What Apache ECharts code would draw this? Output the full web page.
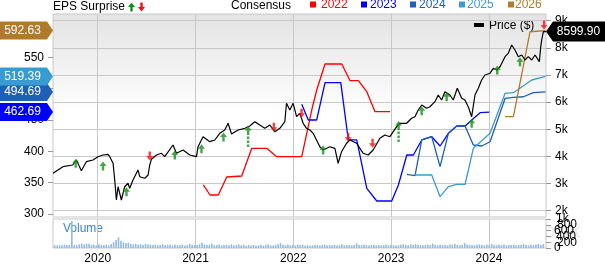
<!DOCTYPE html>
<html><head><meta charset="utf-8">
<script src="https://cdn.jsdelivr.net/npm/echarts@6/dist/echarts.min.js"></script>
<style>html,body{margin:0;padding:0;background:#fff}#c{width:605px;height:265px}</style>
</head><body><div id="c"></div>
<script>
// ---------- data (decimal years) ----------
const years = [2020, 2021, 2022, 2023, 2024];
const priceTicks = [2000, 3000, 4000, 5000, 6000, 7000, 8000, 9000];
const epsTicks = [300, 350, 400, 450, 500, 550];
const volTicks = [0, 200, 400, 600, 800, 1000];
const volLabelsA = [0, 600];
const volLabelsB = [200, 800];
const volLabelsC = [400, 1000];

const price = [
[2019.543,3378],[2019.645,3621],[2019.744,3684],[2019.782,3868],[2019.833,3474],[2019.884,3806],[2019.952,3868],
[2020.003,3990],[2020.054,4053],[2020.105,4078],[2020.123,3990],[2020.157,3747],[2020.174,3131],[2020.191,2394],
[2020.208,2884],[2020.225,2947],[2020.242,2394],[2020.276,2884],[2020.310,3010],[2020.327,2825],[2020.361,3131],
[2020.412,3500],[2020.430,3253],[2020.481,3194],[2020.515,3316],[2020.532,3684],[2020.549,3894],[2020.601,4053],
[2020.652,4115],[2020.685,3990],[2020.770,4421],[2020.805,4115],[2020.873,4237],[2020.941,4053],[2021.010,3990],
[2021.026,4358],[2021.077,4727],[2021.146,4543],[2021.197,4605],[2021.248,4852],[2021.299,4974],[2021.333,5221],
[2021.368,4826],[2021.435,4974],[2021.504,5036],[2021.555,5121],[2021.606,5280],[2021.657,5158],[2021.708,5036],
[2021.760,5158],[2021.811,4911],[2021.862,5036],[2021.913,5280],[2021.930,5958],[2021.964,5711],[2021.998,5958],
[2022.033,5464],[2022.066,5589],[2022.100,5221],[2022.135,5036],[2022.169,4974],[2022.203,4852],[2022.237,4605],
[2022.271,4358],[2022.305,4237],[2022.373,4358],[2022.425,4299],[2022.458,3747],[2022.493,4174],[2022.544,4484],
[2022.578,4605],[2022.647,4484],[2022.714,4115],[2022.765,4053],[2022.816,4237],[2022.885,4668],[2022.936,4790],
[2022.987,4727],[2023.056,5095],[2023.090,5221],[2023.158,5221],[2023.209,5405],[2023.243,5464],[2023.277,5711],
[2023.312,5895],[2023.363,5773],[2023.396,5832],[2023.448,6017],[2023.481,6264],[2023.516,6079],[2023.550,6385],
[2023.601,6264],[2023.635,6079],[2023.676,6510],[2023.721,6142],[2023.754,6079],[2023.788,5832],[2023.823,5464],
[2023.857,6264],[2023.891,6510],[2023.925,6816],[2023.959,7001],[2024.010,7063],[2024.044,7247],[2024.079,7185],
[2024.113,7306],[2024.164,7675],[2024.197,7800],[2024.232,8106],[2024.266,7922],[2024.300,7675],[2024.335,7737],
[2024.368,7553],[2024.402,7675],[2024.437,7553],[2024.471,7737],[2024.515,7491],[2024.529,8043],[2024.539,8290],
[2024.556,8596],[2024.583,8599.90]
];

const cons2022 = [
[2021.080,346.3],[2021.148,330.3],[2021.233,330.3],[2021.319,359.0],[2021.472,360.6],[2021.575,404.8],
[2021.728,404.8],[2021.830,391.4],[2022.086,391.4],[2022.137,428.7],[2022.188,465.9],[2022.239,497.8],
[2022.324,539.3],[2022.495,539.3],[2022.580,512.7],[2022.665,512.7],[2022.751,495.1],[2022.835,463.2],[2022.989,463.2]
];
const cons2023 = [
[2022.086,475.0],[2022.153,450.0],[2022.239,450.0],[2022.324,509.5],[2022.485,509.5],[2022.562,418.1],
[2022.648,418.1],[2022.751,341.0],[2022.853,320.7],[2023.006,320.7],[2023.074,346.3],[2023.160,394.1],
[2023.227,394.1],[2023.313,418.1],[2023.415,423.3],[2023.500,408.5],[2023.585,428.7],[2023.671,440.4],
[2023.756,440.4],[2023.824,450.0],[2023.909,461.6],[2024.004,462.69]
];
const cons2024 = [
[2023.160,363.3],[2023.244,361.1],[2023.313,418.1],[2023.415,423.3],[2023.500,375.5],[2023.585,428.7],
[2023.671,440.4],[2023.756,440.4],[2023.840,410.1],[2023.926,408.5],[2024.011,415.3],[2024.165,484.6],
[2024.250,486.2],[2024.352,487.1],[2024.454,493.5],[2024.578,494.69]
];
const cons2025 = [
[2023.244,362.2],[2023.415,362.2],[2023.500,327.6],[2023.585,343.6],[2023.671,347.4],[2023.756,347.4],
[2023.840,404.8],[2024.011,428.7],[2024.165,492.6],[2024.250,493.5],[2024.438,513.8],[2024.578,519.39]
];
const cons2026 = [
[2024.165,455.2],[2024.250,455.2],[2024.420,590.8],[2024.578,592.63]
];

// EPS surprise arrows [year, price level]
const beats = [
[2019.775,3747],[2020.054,3647],[2020.294,2700],[2020.788,4053],[2021.061,4281],[2021.286,4716],
[2022.305,4237],[2023.312,5685],[2023.567,6201],[2023.823,5221],[2024.085,7185],[2024.317,7491]
];
const beatsBig = [[2021.538,4955],[2023.076,5140]];
const misses = [[2020.532,4016],[2021.801,5073],[2022.084,5589],[2022.561,4705],[2022.810,4484],[2024.563,8843]];

// volume (thousands, approx) sampled across the period
const VOL_START = 2019.56, VOL_STEP = 0.0251;
const volume = [
100,90,110,95,120,100,105,930,110,100,
130,160,120,150,140,100,115,90,130,110,
100,120,95,140,200,280,370,250,190,160,
180,140,120,150,110,130,100,140,120,110,
100,120,90,105,130,95,100,125,85,110,
95,105,120,80,100,140,110,95,100,130,
180,120,100,110,150,95,100,120,90,105,
110,95,130,85,100,120,95,110,80,100,
90,105,75,95,110,80,100,125,90,85,
100,130,170,110,95,120,90,100,85,110,
105,120,90,100,80,95,115,100,90,105,
120,85,100,95,110,90,100,130,95,105,
110,90,100,160,105,95,120,100,90,110,
100,95,105,85,100,120,90,105,100,90,
95,110,130,100,90,120,105,140,110,100,
95,110,120,100,150,105,95,115,100,110,
90,120,105,140,100,95,110,170,120,100,
105,95,110,130,100,90,115,100,140,105,
95,110,100,120,90,105,100,115,95,110,
100,130,105,95,110,100,120,140,105,130
];

// ---------- styling ----------
const X_MIN = 2019.543, X_MAX = 2024.583;
const P_MIN = 1768, P_MAX = 9248;
const E_MIN = 295.2, E_MAX = 619.1;
const FONT = 'Liberation Sans, Arial, Helvetica, sans-serif';
const C22 = '#ff0000', C23 = '#0000ff', C24 = '#1f5fb4', C25 = '#3a9bd0', C26 = '#b07a2c';
const GREEN = '#178f17', RED = '#f01010';

const UP = 'path://M3.5,0 L7,4.5 L4.7,4.5 L4.7,9 L2.3,9 L2.3,4.5 L0,4.5 Z';
const UP_DASH = 'path://M3.5,0 L7,4.5 L4.7,4.5 L4.7,9 L2.3,9 L2.3,4.5 L0,4.5 Z M2.3,10.5 L4.7,10.5 L4.7,13 L2.3,13 Z M2.3,14.5 L4.7,14.5 L4.7,17 L2.3,17 Z M2.3,18.5 L4.7,18.5 L4.7,21 L2.3,21 Z';
const DOWN = 'path://M2.3,0 L4.7,0 L4.7,4.5 L7,4.5 L3.5,9 L0,4.5 L2.3,4.5 Z';
const TAG_L = 'path://M0,0 L47,0 L53,9 L47,18 L0,18 Z';
const TAG_R = 'path://M0,10 L7,0 L59,0 L59,20 L7,20 Z';

const volData = volume.map((v, i) => [VOL_START + i * VOL_STEP, v]);

function leftTag(arr, color) {
  const last = arr[arr.length - 1][1];
  return {
    symbol: TAG_L, symbolSize: [53, 18], symbolOffset: [-26.5, 0], silent: true,
    itemStyle: { color: color },
    label: { show: true, position: 'inside', offset: [-4, 0], color: '#fff', fontSize: 12, fontFamily: FONT,
             formatter: p => p.value.toFixed(2) },
    data: [{ coord: [X_MIN, last], value: last }]
  };
}
function consLine(name, arr, color) {
  return { name, type: 'line', xAxisIndex: 0, yAxisIndex: 0, data: arr, showSymbol: false, symbol: 'none',
           lineStyle: { color, width: 1.3 }, itemStyle: { color }, z: 3, silent: true };
}
function volAxis(labels, showTick, padLeft) {
  return { type: 'value', gridIndex: 1, position: 'right', min: 0, max: 1000, axisLine: { show: false },
    axisTick: { show: showTick, length: 5, customValues: volTicks, lineStyle: { color: '#999' } },
    axisLabel: { customValues: labels, color: '#000', fontSize: 12, margin: 8 + padLeft, fontFamily: FONT,
                 hideOverlap: false, showMinLabel: true, showMaxLabel: true,
                 formatter: v => v === 1000 ? '1k' : String(v) },
    splitLine: { show: false } };
}
function arrowUp(x, y) { return [[x + 3.5, y], [x + 7, y + 4.5], [x + 4.7, y + 4.5], [x + 4.7, y + 9], [x + 2.3, y + 9], [x + 2.3, y + 4.5], [x, y + 4.5]]; }
function arrowDown(x, y) { return [[x + 2.3, y], [x + 4.7, y], [x + 4.7, y + 4.5], [x + 7, y + 4.5], [x + 3.5, y + 9], [x, y + 4.5], [x + 2.3, y + 4.5]]; }

const chart = echarts.init(document.getElementById('c'), null, { renderer: 'canvas' });
const lastPrice = price[price.length - 1][1];

const option = {
  animation: false,
  backgroundColor: '#fff',
  textStyle: { fontFamily: FONT },
  grid: [
    { left: 53, right: 59, top: 14, height: 203, show: true, borderColor: '#c8c8c8', borderWidth: 1,
      backgroundColor: { type: 'linear', x: 0, y: 0, x2: 0, y2: 1,
        colorStops: [{ offset: 0, color: '#e3e3e3' }, { offset: 0.5, color: '#ffffff' }, { offset: 1, color: '#ffffff' }] } },
    { left: 53, right: 59, top: 219, height: 34, show: true, borderColor: '#c8c8c8', borderWidth: 1, backgroundColor: '#fff' }
  ],
  xAxis: [
    { type: 'value', gridIndex: 0, min: X_MIN, max: X_MAX, axisLine: { show: false },
      axisTick: { show: false, customValues: years }, axisLabel: { show: false, customValues: years },
      splitLine: { show: true, lineStyle: { color: '#c8c8c8', width: 1 } } },
    { type: 'value', gridIndex: 1, min: X_MIN, max: X_MAX, axisLine: { show: false },
      axisTick: { show: false, customValues: years },
      axisLabel: { show: true, customValues: years, formatter: v => String(Math.round(v)), color: '#000', fontSize: 12, margin: 5, fontFamily: FONT },
      splitLine: { show: true, lineStyle: { color: '#c8c8c8', width: 1 } } }
  ],
  yAxis: [
    { type: 'value', gridIndex: 0, position: 'left', min: E_MIN, max: E_MAX, axisLine: { show: false },
      axisTick: { show: true, length: 5, customValues: epsTicks, lineStyle: { color: '#999' } },
      axisLabel: { customValues: epsTicks, color: '#000', fontSize: 12, margin: 9, fontFamily: FONT },
      splitLine: { show: false } },
    { type: 'value', gridIndex: 0, position: 'right', min: P_MIN, max: P_MAX, axisLine: { show: false },
      axisTick: { show: true, length: 5, customValues: priceTicks, lineStyle: { color: '#999' } },
      axisLabel: { customValues: priceTicks, color: '#000', fontSize: 12, margin: 9, fontFamily: FONT,
                   formatter: v => (v / 1000) + 'k' },
      splitLine: { show: true, lineStyle: { color: '#c8c8c8', width: 1 } } },
    volAxis(volLabelsA, true, 0),
    volAxis(volLabelsB, false, 3),
    volAxis(volLabelsC, false, 2)
  ],
  series: [
    { name: 'Volume', type: 'bar', xAxisIndex: 1, yAxisIndex: 2, data: volData, barWidth: 1.6,
      itemStyle: { color: '#8fbbe4' }, silent: true },
    consLine('2022', cons2022, C22),
    Object.assign(consLine('2023', cons2023, C23), { markPoint: leftTag(cons2023, C23) }),
    Object.assign(consLine('2024', cons2024, C24), { markPoint: leftTag(cons2024, C24) }),
    Object.assign(consLine('2025', cons2025, C25), { markPoint: leftTag(cons2025, C25) }),
    Object.assign(consLine('2026', cons2026, C26), { markPoint: leftTag(cons2026, C26) }),
    { name: 'Price', type: 'line', xAxisIndex: 0, yAxisIndex: 1, data: price, showSymbol: false, symbol: 'none',
      lineStyle: { color: '#000', width: 1.2 }, itemStyle: { color: '#000' }, z: 4, silent: true,
      markPoint: {
        symbol: TAG_R, symbolSize: [59, 20], symbolOffset: [29.5, 0], silent: true,
        itemStyle: { color: '#000' },
        label: { show: true, position: 'inside', offset: [3, 0], color: '#fff', fontSize: 12, fontFamily: FONT,
                 formatter: p => p.value.toFixed(2) },
        data: [{ coord: [X_MAX, lastPrice], value: lastPrice }]
      } },
    { name: 'beats', type: 'scatter', xAxisIndex: 0, yAxisIndex: 1, data: beats, symbol: UP, symbolSize: [7, 9],
      itemStyle: { color: GREEN }, z: 6, silent: true },
    { name: 'beatsBig', type: 'scatter', xAxisIndex: 0, yAxisIndex: 1, data: beatsBig, symbol: UP_DASH, symbolSize: [7, 21],
      symbolOffset: [0, 6], itemStyle: { color: GREEN }, z: 6, silent: true },
    { name: 'misses', type: 'scatter', xAxisIndex: 0, yAxisIndex: 1, data: misses, symbol: DOWN, symbolSize: [7, 9],
      itemStyle: { color: RED }, z: 6, silent: true }
  ],
  graphic: [
    { type: 'text', x: 476, y: 232, z: -10, silent: true,
      style: { text: 'WikiStock', fill: '#eeeeee', font: 'bold 22px ' + FONT, verticalAlign: 'middle' } },
    { type: 'text', x: 53, y: 7, style: { text: 'EPS Surprise', fill: '#000', font: '12px ' + FONT, verticalAlign: 'middle' } },
    { type: 'polygon', shape: { points: arrowUp(128, 2.5) }, style: { fill: GREEN } },
    { type: 'polygon', shape: { points: arrowDown(138, 2.5) }, style: { fill: RED } },
    { type: 'text', x: 231, y: 6, style: { text: 'Consensus', fill: '#000', font: '12px ' + FONT, verticalAlign: 'middle' } },
    { type: 'rect', shape: { x: 310, y: 1.5, width: 6, height: 6 }, style: { fill: C22 } },
    { type: 'text', x: 321, y: 5, style: { text: '2022', fill: C22, font: '12px ' + FONT, verticalAlign: 'middle' } },
    { type: 'rect', shape: { x: 361, y: 1.5, width: 6, height: 6 }, style: { fill: C23 } },
    { type: 'text', x: 370, y: 5, style: { text: '2023', fill: C23, font: '12px ' + FONT, verticalAlign: 'middle' } },
    { type: 'rect', shape: { x: 410, y: 1.5, width: 6, height: 6 }, style: { fill: C24 } },
    { type: 'text', x: 419, y: 5, style: { text: '2024', fill: C24, font: '12px ' + FONT, verticalAlign: 'middle' } },
    { type: 'rect', shape: { x: 459, y: 1.5, width: 6, height: 6 }, style: { fill: C25 } },
    { type: 'text', x: 467, y: 5, style: { text: '2025', fill: C25, font: '12px ' + FONT, verticalAlign: 'middle' } },
    { type: 'rect', shape: { x: 508, y: 1.5, width: 6, height: 6 }, style: { fill: C26 } },
    { type: 'text', x: 515, y: 5, style: { text: '2026', fill: C26, font: '12px ' + FONT, verticalAlign: 'middle' } },
    { type: 'rect', shape: { x: 474, y: 23, width: 10, height: 4 }, style: { fill: '#000' } },
    { type: 'text', x: 489, y: 25.5, style: { text: 'Price ($)', fill: '#000', font: '12px ' + FONT, verticalAlign: 'middle' } },
    { type: 'text', x: 63, y: 229, style: { text: 'Volume', fill: '#3d85c6', font: '12px ' + FONT, verticalAlign: 'middle' } }
  ]
};
chart.setOption(option);
</script>
</body></html>
